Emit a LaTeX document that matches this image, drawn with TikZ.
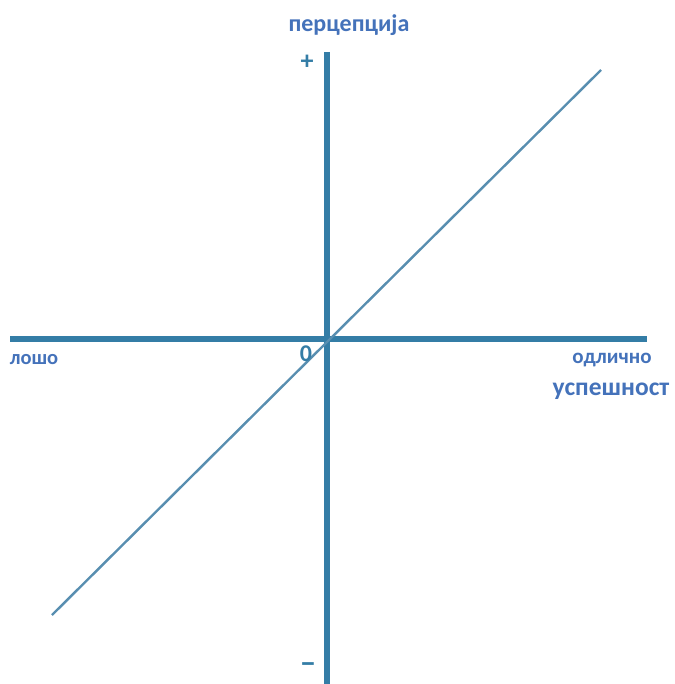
\documentclass[tikz,border=0pt]{standalone}
\usepackage{fontspec}
\setmainfont{Carlito}
\definecolor{axiscol}{RGB}{52,125,166}
\definecolor{diagcol}{RGB}{88,142,176}
\definecolor{txtcol}{RGB}{68,114,186}
\begin{document}
\begin{tikzpicture}[x=1pt,y=-1pt,
  axis/.style={draw=axiscol,line width=6pt},
  diag/.style={draw=diagcol,line width=2.4pt},
  lbl/.style={text=txtcol,inner sep=0pt},
  mark lbl/.style={text=axiscol,inner sep=0pt}]
\useasboundingbox (0,0) rectangle (674,684);
\coordinate (hl) at (10,339);
\coordinate (hr) at (647,339);
\coordinate (vt) at (327,52);
\coordinate (vb) at (327,684);
\coordinate (dl) at (52,615);
\coordinate (dr) at (601,70);
\draw[axis] (hl) -- (hr);
\draw[axis] (vt) -- (vb);
\draw[diag] (dl) -- (dr);
\node[lbl,font=\bfseries\fontsize{24}{24}\selectfont] (perc) at (349,25) {перцепција};
\node[lbl,font=\bfseries\fontsize{25.5}{25.5}\selectfont] (usp) at (611,391) {успешност};
\node[lbl,font=\bfseries\fontsize{20.5}{20.5}\selectfont] (losho) at (34,360) {лошо};
\node[lbl,font=\bfseries\fontsize{21}{21}\selectfont] (odl) at (612,360) {одлично};
\node[mark lbl,font=\bfseries\fontsize{24}{24}\selectfont] (zero) at (306,354) {0};
\node[mark lbl,font=\bfseries\fontsize{26}{26}\selectfont] (plus) at (307,62) {+};
\node[mark lbl,font=\bfseries\fontsize{30}{30}\selectfont] (minus) at (308,668) {−};
\end{tikzpicture}
\end{document}
